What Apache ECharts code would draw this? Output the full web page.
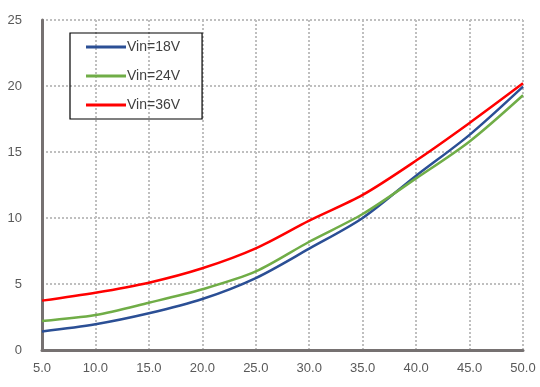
<!DOCTYPE html>
<html>
<head>
<meta charset="utf-8">
<script src="https://cdn.jsdelivr.net/npm/echarts@6/dist/echarts.min.js"></script>
<style>html,body{margin:0;padding:0;background:#fff;}#c{width:540px;height:387px;}</style>
</head>
<body>
<div id="c"></div>
<script>
var xValues = [5, 10, 15, 20, 25, 30, 35, 40, 45, 50];
var seriesNames = ['Vin=18V', 'Vin=24V', 'Vin=36V'];
var vin18 = [1.41, 1.95, 2.78, 3.86, 5.45, 7.68, 10.0, 13.2, 16.3, 19.95];
var vin24 = [2.2, 2.65, 3.58, 4.6, 5.95, 8.2, 10.3, 13.0, 15.8, 19.3];
var vin36 = [3.74, 4.34, 5.1, 6.19, 7.7, 9.8, 11.75, 14.35, 17.2, 20.2];
var colors = ['#2B4F95', '#70AD47', '#FF0000'];

function pairs(ys) { return xValues.map(function (x, i) { return [x, ys[i]]; }); }
var allData = [vin18, vin24, vin36];

var chart = echarts.init(document.getElementById('c'));
var gridLine = { show: true, lineStyle: { color: '#BFBFBF', type: [2, 2], width: 2 } };
var lineIcon = 'path://M0,0L40,0L40,3L0,3Z';
chart.setOption({
  animation: false,
  grid: { left: 42, right: 17, top: 20, bottom: 37, containLabel: false },
  legend: {
    orient: 'vertical', left: 70, top: 33,
    borderColor: '#000', borderWidth: 1.2,
    padding: [7, 22, 7, 16], itemGap: 15, itemWidth: 40, itemHeight: 14,
    textStyle: { fontFamily: 'Liberation Sans', fontSize: 14, color: '#404040', padding: [0, 0, 0, -4] },
    data: seriesNames.map(function (n) { return { name: n, icon: lineIcon }; })
  },
  xAxis: {
    type: 'value', min: 5, max: 50, interval: 5,
    axisLine: { show: true, lineStyle: { color: '#767171', width: 3 } },
    axisTick: { show: false },
    splitLine: gridLine,
    axisLabel: { margin: 12, color: '#595959', fontSize: 13, fontFamily: 'Liberation Sans',
      formatter: function (v) { return v.toFixed(1); } }
  },
  yAxis: {
    type: 'value', min: 0, max: 25, interval: 5,
    axisLine: { show: true, lineStyle: { color: '#767171', width: 3 } },
    axisTick: { show: false },
    splitLine: gridLine,
    axisLabel: { margin: 20, color: '#595959', fontSize: 13, fontFamily: 'Liberation Sans' }
  },
  series: allData.map(function (d, i) {
    return {
      name: seriesNames[i], type: 'line', data: pairs(d),
      smooth: 0.3, symbol: 'none',
      lineStyle: { color: colors[i], width: 2.5 },
      itemStyle: { color: colors[i] }
    };
  })
});
</script>
</body>
</html>
